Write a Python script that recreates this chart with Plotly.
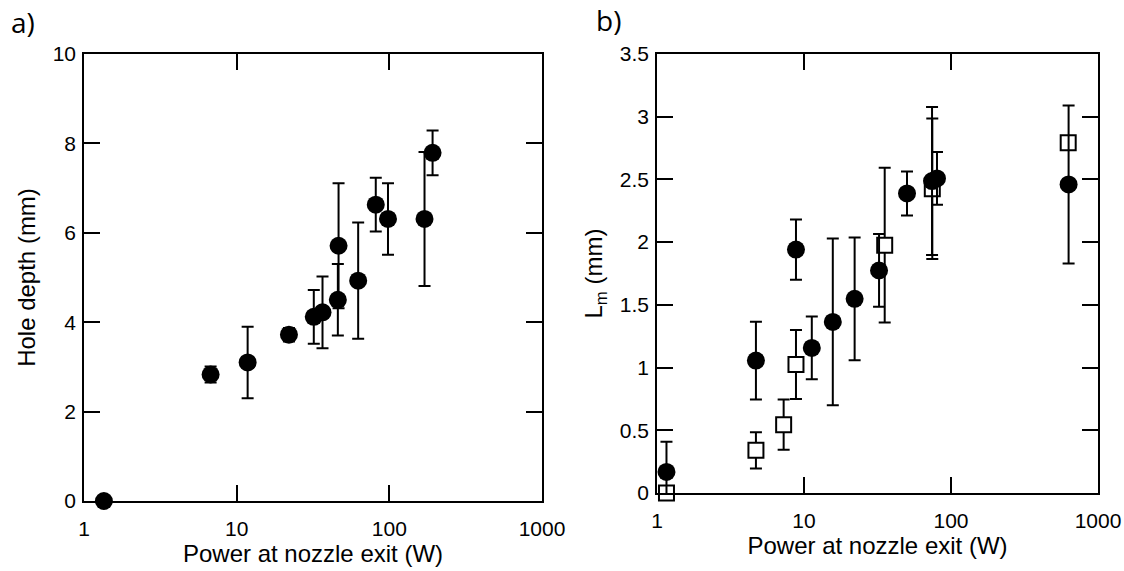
import plotly.graph_objects as go

# ---- Panel a) Hole depth vs power ----
a_power = [1.35, 6.75, 11.8, 22, 32, 36.5, 46, 46.5, 62.5, 81.5, 98, 170, 192]
a_depth = [0.0, 2.83, 3.1, 3.72, 4.12, 4.22, 4.5, 5.71, 4.93, 6.63, 6.31, 6.31, 7.79]
a_err   = [0.0, 0.18, 0.8, 0.15, 0.6, 0.8, 0.8, 1.4, 1.3, 0.6, 0.8, 1.5, 0.5]

# ---- Panel b) Lm vs power ----
b_circ_power = [1.16, 4.71, 8.82, 11.3, 15.7, 22.1, 32.4, 50.2, 74.3, 80.3, 631]
b_circ_lm    = [0.168, 1.056, 1.941, 1.157, 1.364, 1.548, 1.774, 2.388, 2.487, 2.508, 2.46]
b_circ_err   = [0.24, 0.31, 0.24, 0.25, 0.665, 0.49, 0.29, 0.175, 0.59, 0.21, 0.63]

b_sq_power = [1.16, 4.71, 7.27, 8.82, 35.4, 74.6, 627]
b_sq_lm    = [0.0, 0.34, 0.545, 1.024, 1.976, 2.426, 2.793]
b_sq_err   = [0.0, 0.145, 0.2, 0.275, 0.617, 0.56, 0.0]

x_ticks = [1, 10, 100, 1000]
x_ticktext = ["1", "10", "100", "1000"]

FONT = "Liberation Sans, Arial, sans-serif"

fig = go.Figure()

err_style = dict(type="data", visible=True, color="black", thickness=2, width=6)

fig.add_trace(go.Scatter(
    x=a_power, y=a_depth, mode="markers",
    marker=dict(symbol="circle", size=18, color="black"),
    error_y=dict(array=a_err, **err_style),
    xaxis="x", yaxis="y", cliponaxis=False, showlegend=False))

fig.add_trace(go.Scatter(
    x=b_sq_power, y=b_sq_lm, mode="markers",
    marker=dict(symbol="square", size=15, color="white", line=dict(color="black", width=2)),
    error_y=dict(array=b_sq_err, **err_style),
    xaxis="x2", yaxis="y2", cliponaxis=False, showlegend=False))

fig.add_trace(go.Scatter(
    x=b_circ_power, y=b_circ_lm, mode="markers",
    marker=dict(symbol="circle", size=18, color="black"),
    error_y=dict(array=b_circ_err, **err_style),
    xaxis="x2", yaxis="y2", cliponaxis=False, showlegend=False))

W, H = 1124, 571

def xa(d0, d1, anchor):
    return dict(
        type="log", range=[0, 3], domain=[d0 / W, d1 / W], anchor=anchor,
        tickvals=x_ticks, ticktext=x_ticktext,
        ticks="inside", ticklen=16, tickwidth=1.6, tickcolor="black",
        showline=True, linewidth=1.6, linecolor="black", mirror="ticks",
        showgrid=False, zeroline=False, automargin=False,
        tickfont=dict(family=FONT, size=21, color="black"),
        ticklabelstandoff=8,
        title=dict(text="Power at nozzle exit (W)",
                   font=dict(family=FONT, size=24, color="black"), standoff=4),
    )

def ya(d0, d1, anchor, rng, dtick, title):
    return dict(
        range=rng, domain=[1 - d1 / H, 1 - d0 / H], anchor=anchor,
        dtick=dtick, tick0=0,
        ticks="inside", ticklen=16, tickwidth=1.6, tickcolor="black",
        showline=True, linewidth=1.6, linecolor="black", mirror="ticks",
        showgrid=False, zeroline=False, automargin=False,
        tickfont=dict(family=FONT, size=21, color="black"),
        ticklabelstandoff=2,
        title=dict(text=title, font=dict(family=FONT, size=24, color="black"), standoff=10),
    )

fig.update_layout(
    width=W, height=H,
    margin=dict(l=0, r=0, t=0, b=0),
    paper_bgcolor="white", plot_bgcolor="white",
    xaxis=xa(84, 542, "y"),
    yaxis=ya(54, 501, "x", [0, 10], 2, "Hole depth (mm)"),
    xaxis2=xa(657, 1098, "y2"),
    yaxis2=ya(54, 493, "x2", [0, 3.5], 0.5, "L<sub>m</sub> (mm)"),
    annotations=[
        dict(text="a)", x=23 / W, y=1 - 22 / H, xref="paper", yref="paper",
             showarrow=False, xanchor="center", yanchor="middle",
             font=dict(family="Open Sans, sans-serif", size=28, color="black")),
        dict(text="b)", x=608 / W, y=1 - 20 / H, xref="paper", yref="paper",
             showarrow=False, xanchor="center", yanchor="middle",
             font=dict(family="Open Sans, sans-serif", size=28, color="black")),
    ],
)

fig.write_html("out.html")
